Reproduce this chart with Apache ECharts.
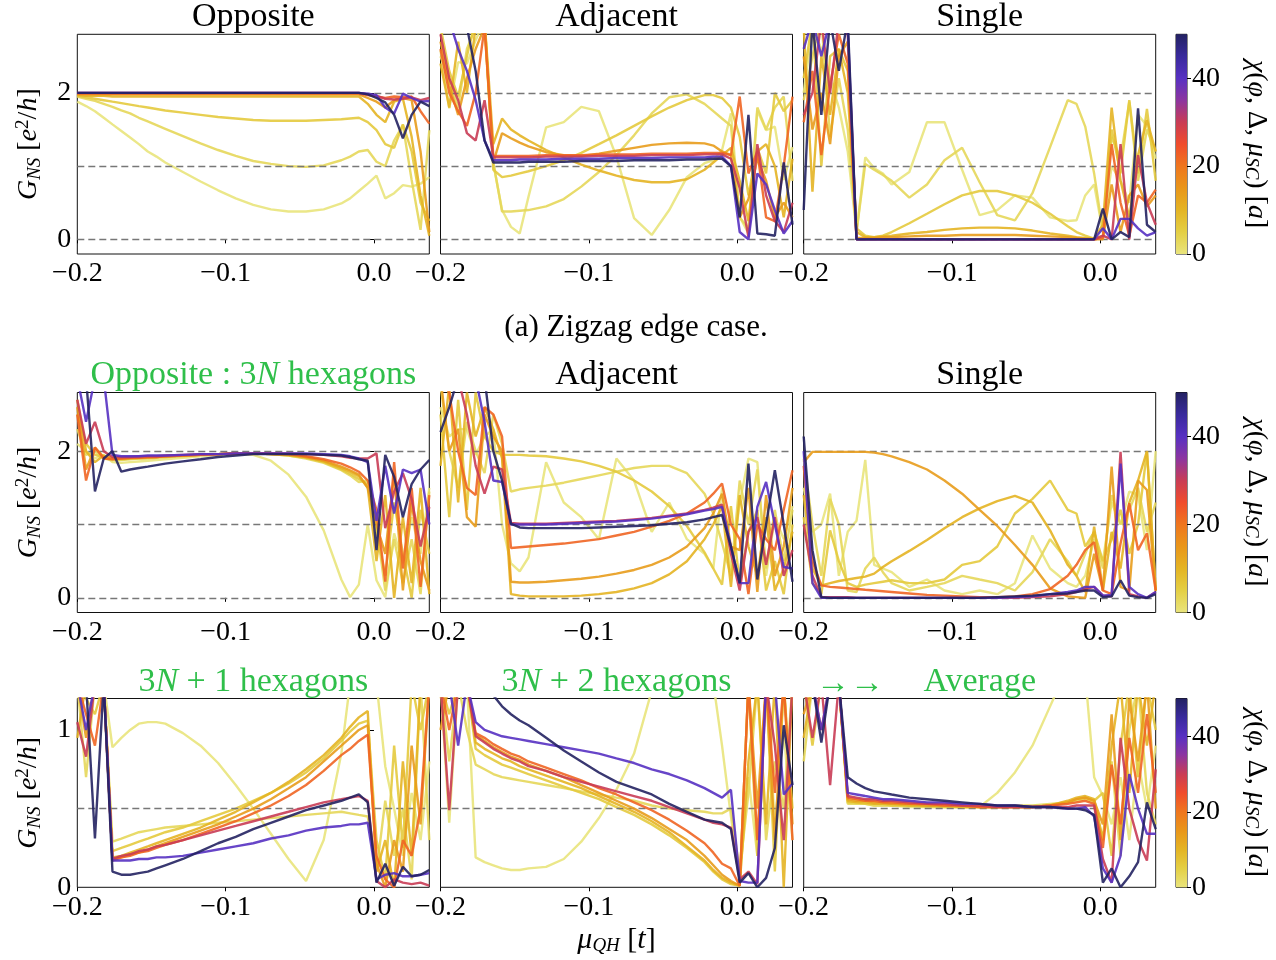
<!DOCTYPE html>
<html><head><meta charset="utf-8">
<script src="https://cdn.jsdelivr.net/npm/echarts@6/dist/echarts.min.js"></script>
<style>html,body{margin:0;padding:0;background:#fff}#c{width:1276px;height:960px}</style>
</head><body><div id="c"></div>
<script>
// ---------- data ----------
const X_GRID = [-0.2,-0.1941,-0.1881,-0.1822,-0.1763,-0.1703,-0.1644,-0.1585,-0.1525,-0.1466,-0.1407,
  -0.1288,-0.1169,-0.1051,-0.0932,-0.0814,-0.0695,-0.0576,-0.0458,-0.0339,-0.0220,
  -0.0161,-0.0102,-0.0042,0.0017,0.0076,0.0136,0.0195,0.0254,0.0314,0.0373];
const CHI = [0, 3, 6, 10, 14, 22, 30, 40, 50];
const X_TICKS = [-0.2, -0.1, 0];
const Y_TICKS_G2 = [0, 2];
const Y_TICKS_G1 = [0, 1];
const CB_TICKS = [0, 20, 40];
const REF_G2 = [0, 1, 2];
const REF_G1 = [0.5];

// (a) zigzag edge: Opposite
const ZZ_OPP = [
 [1.88,1.82,1.75,1.66,1.57,1.48,1.39,1.30,1.20,1.13,1.05, 0.92,0.79,0.67,0.56,0.47,0.41,0.38,0.38,0.41,0.49, 0.56,0.66,0.76,0.87,0.56,0.63,0.74,0.72,0.76,0.85],
 [1.95,1.92,1.89,1.85,1.81,1.76,1.72,1.66,1.61,1.56,1.51, 1.41,1.31,1.22,1.14,1.07,1.03,1.00,0.99,1.01,1.08, 1.13,1.20,1.22,1.06,1.00,1.35,1.56,0.81,0.13,1.49],
 [1.96,1.94,1.92,1.90,1.88,1.86,1.84,1.82,1.80,1.78,1.76, 1.73,1.70,1.67,1.65,1.63,1.62,1.62,1.62,1.63,1.64, 1.65,1.66,1.60,1.49,1.30,1.25,1.57,1.20,0.50,0.25],
 [1.97,1.96,1.96,1.96,1.95,1.95,1.95,1.95,1.95,1.95,1.95, 1.95,1.95,1.95,1.95,1.95,1.95,1.95,1.95,1.95,1.95, 1.95,1.95,1.85,1.70,1.60,1.88,1.92,1.40,0.60,0.05],
 [1.98,1.98,1.98,1.98,1.98,1.98,1.98,1.98,1.98,1.98,1.98, 1.98,1.98,1.98,1.98,1.98,1.98,1.98,1.98,1.98,1.98, 1.98,1.98,1.93,1.88,1.80,1.90,1.93,1.90,1.20,0.10],
 [1.99,1.99,1.99,1.99,1.99,1.99,1.99,1.99,1.99,1.99,1.99, 1.99,1.99,1.99,1.99,1.99,1.99,1.99,1.99,1.99,1.99, 1.99,1.99,1.97,1.95,1.93,1.95,1.94,1.95,1.75,1.58],
 [2.00,2.00,2.00,2.00,2.00,2.00,2.00,2.00,2.00,2.00,2.00, 2.00,2.00,2.00,2.00,2.00,2.00,2.00,2.00,2.00,2.00, 2.00,2.00,1.98,1.96,1.92,1.91,1.92,1.94,1.90,1.93],
 [2.00,2.00,2.00,2.00,2.00,2.00,2.00,2.00,2.00,2.00,2.00, 2.00,2.00,2.00,2.00,2.00,2.00,2.00,2.00,2.00,2.00, 2.00,2.00,1.99,1.97,1.80,1.72,1.99,1.93,1.88,1.89],
 [2.00,2.00,2.00,2.00,2.00,2.00,2.00,2.00,2.00,2.00,2.00, 2.00,2.00,2.00,2.00,2.00,2.00,2.00,2.00,2.00,2.00, 2.00,2.00,1.98,1.93,1.87,1.70,1.38,1.70,1.88,1.82]
];
// (a) zigzag edge: Adjacent
const ZZ_ADJ = [
 [2.58,1.79,2.42,2.40,2.72,3.00,1.04,0.40,0.17,0.08,0.58, 1.53,1.60,1.81,1.75,1.13,0.29,0.06,0.40,0.85,1.04, 1.08,1.22,1.72,0.31,0.08,1.76,1.49,1.54,0.81,1.26],
 [2.50,2.20,1.80,2.60,2.90,3.00,1.05,0.38,0.38,0.39,0.40, 0.45,0.55,0.72,0.92,1.15,1.42,1.72,1.94,1.98,1.85, 1.75,1.65,1.55,0.30,0.15,1.80,1.50,1.80,1.95,0.80],
 [2.90,2.30,1.95,2.50,3.00,3.00,0.95,0.85,0.87,0.90,0.93, 1.00,1.08,1.18,1.30,1.42,1.55,1.68,1.80,1.90,1.97, 1.97,1.93,1.80,1.40,0.60,1.25,0.90,2.00,1.75,1.90],
 [2.40,1.80,2.70,2.00,2.90,3.00,1.30,1.65,1.50,1.42,1.35, 1.22,1.12,1.02,0.94,0.87,0.81,0.78,0.78,0.82,0.95, 1.05,1.15,1.25,0.80,0.25,1.20,1.30,1.00,0.30,1.10],
 [2.70,2.10,1.70,2.20,2.60,2.90,1.05,1.45,1.38,1.32,1.27, 1.19,1.15,1.14,1.17,1.21,1.25,1.29,1.31,1.32,1.31, 1.28,1.20,1.15,0.30,0.55,1.10,0.80,0.30,0.50,0.30],
 [2.60,2.00,1.75,1.55,2.00,2.90,1.14,1.14,1.14,1.14,1.14, 1.15,1.15,1.15,1.16,1.16,1.16,1.17,1.17,1.17,1.18, 1.18,1.18,1.15,1.95,0.90,1.20,0.30,0.25,1.00,1.95],
 [2.80,2.20,1.90,1.45,1.35,1.90,1.12,1.12,1.12,1.12,1.12, 1.13,1.13,1.13,1.14,1.14,1.14,1.15,1.15,1.15,1.16, 1.16,1.16,1.10,0.70,0.03,1.30,0.60,0.25,0.10,0.50],
 [3.00,3.00,2.60,2.30,1.90,1.35,1.08,1.08,1.08,1.09,1.09, 1.09,1.10,1.10,1.10,1.11,1.11,1.11,1.12,1.12,1.12, 1.13,1.13,1.00,0.10,0.00,0.90,0.75,0.40,0.08,0.25],
 [3.00,3.00,3.00,2.90,2.30,1.35,1.05,1.05,1.05,1.05,1.06, 1.06,1.06,1.07,1.07,1.07,1.08,1.08,1.08,1.09,1.09, 1.10,1.10,1.00,0.30,1.70,0.08,0.07,0.05,1.05,0.20]
];
// (a) zigzag edge: Single
const ZZ_SGL = [
 [2.00,2.90,2.60,2.20,1.80,1.20,0.10,1.12,0.97,0.90,0.75, 0.92,1.60,1.60,0.95,0.33,0.40,0.60,0.57,0.30,0.25, 0.26,0.60,0.75,0.10,1.00,0.80,0.50,1.70,1.55,1.10],
 [1.90,2.50,3.00,1.40,2.20,1.50,0.10,1.03,0.95,0.88,0.80, 0.57,0.75,1.08,1.25,0.78,0.33,0.26,0.63,1.26,1.90, 1.85,1.54,0.90,0.10,1.40,1.10,1.88,0.80,1.50,1.20],
 [2.20,3.00,1.00,2.50,2.60,2.30,0.15,0.05,0.03,0.05,0.10, 0.22,0.35,0.48,0.60,0.66,0.66,0.60,0.50,0.35,0.18, 0.10,0.05,0.01,0.05,1.50,0.90,1.90,0.90,1.78,0.80],
 [2.90,0.65,2.50,1.70,2.60,2.00,0.10,0.03,0.03,0.04,0.05, 0.08,0.10,0.13,0.15,0.16,0.16,0.15,0.12,0.08,0.05, 0.03,0.02,0.01,0.20,1.80,0.80,0.30,1.15,1.63,1.20],
 [2.50,1.50,2.00,1.30,2.50,2.70,0.02,0.02,0.02,0.03,0.03, 0.04,0.05,0.05,0.06,0.06,0.06,0.06,0.05,0.04,0.03, 0.02,0.01,0.00,0.00,0.75,0.10,0.60,0.75,0.45,0.60],
 [1.60,2.30,1.15,2.10,2.80,2.40,0.00,0.00,0.00,0.00,0.00, 0.00,0.00,0.00,0.00,0.00,0.00,0.00,0.00,0.00,0.00, 0.00,0.00,0.00,0.02,1.30,0.50,0.05,0.60,0.50,0.68],
 [1.70,2.00,3.00,2.00,3.00,2.80,0.00,0.00,0.00,0.00,0.00, 0.00,0.00,0.00,0.00,0.00,0.00,0.00,0.00,0.00,0.00, 0.00,0.00,0.00,0.05,0.00,1.30,0.00,1.15,0.50,0.20],
 [2.60,3.00,2.50,3.00,2.90,2.90,0.00,0.00,0.00,0.00,0.00, 0.00,0.00,0.00,0.00,0.00,0.00,0.00,0.00,0.00,0.00, 0.00,0.00,0.00,0.15,0.00,0.28,0.28,0.15,0.05,0.10],
 [0.40,3.00,1.70,3.00,2.30,3.00,0.00,0.00,0.00,0.00,0.00, 0.00,0.00,0.00,0.00,0.00,0.00,0.00,0.00,0.00,0.00, 0.00,0.00,0.00,0.42,0.00,0.10,0.03,1.79,0.20,0.10]
];
// armchair: Opposite (3N hexagons)
const AC_OPP = [
 [2.10,2.00,1.90,1.95,1.85,1.84,1.85,1.86,1.87,1.88,1.89, 1.91,1.93,1.95,1.96,1.95,1.87,1.68,1.38,0.92,0.25, 0.01,0.18,1.00,0.24,0.01,0.88,0.47,1.10,0.60,1.50],
 [2.30,1.95,2.00,1.90,1.88,1.88,1.89,1.90,1.90,1.91,1.92, 1.93,1.95,1.96,1.97,1.97,1.96,1.94,1.90,1.84,1.74, 1.67,1.58,1.60,1.00,0.10,0.80,0.20,0.80,0.05,1.45],
 [2.50,2.10,1.95,1.92,1.89,1.89,1.90,1.90,1.91,1.92,1.92, 1.94,1.95,1.96,1.97,1.97,1.96,1.94,1.91,1.85,1.75, 1.69,1.62,1.55,0.90,0.30,1.30,0.60,0.00,1.20,0.60],
 [2.70,2.00,1.85,1.94,1.90,1.90,1.90,1.91,1.91,1.92,1.93, 1.94,1.95,1.96,1.97,1.97,1.96,1.95,1.92,1.86,1.77, 1.72,1.66,1.50,0.50,1.40,0.00,1.10,0.20,1.50,0.05],
 [2.60,1.75,2.05,1.92,1.90,1.90,1.91,1.91,1.92,1.92,1.93, 1.94,1.95,1.96,1.97,1.97,1.96,1.95,1.92,1.87,1.79, 1.74,1.68,1.50,1.00,0.60,1.70,0.10,1.30,0.50,0.10],
 [2.50,1.60,2.05,1.90,1.89,1.90,1.91,1.91,1.92,1.92,1.93, 1.94,1.95,1.96,1.97,1.97,1.97,1.96,1.93,1.89,1.83, 1.78,1.72,1.60,1.20,0.22,1.85,0.40,1.50,0.15,1.40],
 [2.70,2.10,2.40,2.00,1.92,1.92,1.92,1.93,1.93,1.93,1.94, 1.95,1.96,1.96,1.97,1.97,1.97,1.97,1.96,1.95,1.93, 1.91,1.90,1.90,1.97,0.95,1.45,1.70,1.35,0.70,1.24],
 [3.00,2.40,3.00,3.00,1.95,1.93,1.93,1.93,1.94,1.94,1.94, 1.95,1.96,1.96,1.97,1.97,1.97,1.97,1.97,1.96,1.95, 1.93,1.90,1.85,1.05,1.80,1.15,1.75,1.70,1.75,1.00],
 [3.00,3.00,1.45,1.90,2.00,1.72,1.75,1.77,1.79,1.81,1.83, 1.86,1.89,1.92,1.94,1.96,1.96,1.96,1.96,1.95,1.94, 1.92,1.89,1.87,0.65,1.95,1.65,1.10,1.55,1.75,1.88]
];
// armchair: Adjacent
const AC_ADJ = [
 [2.60,2.20,2.30,2.30,1.95,2.20,2.30,1.00,0.47,0.36,0.55, 1.85,1.30,1.10,0.80,1.90,1.60,0.90,1.30,0.80,0.60, 0.40,1.50,0.35,1.30,1.90,1.85,0.30,1.10,0.80,1.25],
 [2.90,2.00,1.50,2.40,2.00,1.70,2.50,2.10,1.45,1.48,1.50, 1.53,1.57,1.62,1.67,1.72,1.77,1.80,1.80,1.70,1.42, 1.15,0.75,0.30,1.60,1.00,1.75,0.40,1.20,0.50,1.20],
 [2.50,1.10,2.70,1.20,2.80,2.20,2.00,1.95,1.95,1.95,1.94, 1.93,1.90,1.86,1.80,1.72,1.60,1.45,1.25,0.98,0.62, 0.40,0.18,1.25,0.20,0.90,1.20,0.10,0.50,0.05,1.00],
 [1.80,2.90,1.30,2.80,2.20,2.60,2.30,1.90,0.05,0.03,0.02, 0.02,0.02,0.03,0.05,0.08,0.13,0.20,0.32,0.50,0.80, 1.00,1.25,0.15,1.40,0.70,0.30,1.10,0.10,0.40,0.90],
 [3.00,2.00,2.30,1.10,0.97,2.50,2.20,2.00,0.22,0.21,0.21, 0.22,0.24,0.26,0.29,0.33,0.38,0.45,0.55,0.70,0.95, 1.15,1.42,0.70,0.65,1.50,0.08,1.40,0.30,0.70,1.50],
 [3.00,2.80,2.00,1.50,1.40,2.60,2.50,2.20,0.68,0.69,0.70, 0.72,0.74,0.77,0.80,0.85,0.90,0.97,1.05,1.15,1.30, 1.42,1.56,1.00,0.80,0.05,1.00,0.80,0.65,1.20,1.74],
 [3.00,3.00,3.00,2.50,1.80,1.42,1.79,1.75,1.02,1.01,1.01, 1.01,1.02,1.03,1.04,1.05,1.07,1.09,1.12,1.15,1.20, 1.23,1.27,0.60,0.10,0.90,1.10,0.45,1.10,0.30,0.65],
 [3.00,3.00,3.00,3.00,3.00,2.40,1.60,1.58,1.00,1.00,1.00, 1.00,1.01,1.02,1.03,1.04,1.06,1.08,1.11,1.14,1.19, 1.21,1.24,0.70,0.20,0.20,1.24,1.58,1.00,0.42,0.40],
 [2.26,2.60,3.00,3.00,3.00,3.00,2.00,1.60,1.01,0.96,0.95, 0.95,0.95,0.95,0.96,0.97,0.98,0.99,1.01,1.03,1.07, 1.10,1.13,0.70,0.20,1.83,0.25,1.00,1.74,1.00,0.22]
];
// armchair: Single
const AC_SGL = [
 [1.50,0.90,1.00,1.42,0.30,0.90,1.05,1.88,0.45,0.40,0.35, 0.15,0.25,0.10,0.05,0.10,0.05,0.20,0.85,0.40,0.20, 0.15,0.30,0.80,0.50,1.30,1.00,1.45,1.40,0.65,2.00],
 [1.90,1.00,0.30,1.35,1.00,0.10,0.08,0.40,0.55,0.35,0.20, 0.10,0.15,0.20,0.30,0.25,0.20,0.10,0.35,0.80,0.50, 0.30,0.60,0.90,0.40,1.40,1.00,1.20,1.50,0.90,1.30],
 [1.10,0.20,0.05,0.92,0.50,0.20,0.15,0.18,0.20,0.22,0.24, 0.20,0.20,0.25,0.45,0.50,0.70,1.15,1.35,1.60,1.20, 1.15,0.70,0.90,0.50,0.80,1.20,0.60,1.00,2.00,0.10],
 [1.40,0.40,0.17,0.20,0.23,0.25,0.27,0.29,0.33,0.42,0.50, 0.64,0.79,0.95,1.10,1.22,1.32,1.39,1.30,0.92,0.45, 0.30,0.08,0.97,0.10,0.90,0.40,1.30,1.60,2.00,0.10],
 [1.85,1.99,1.99,1.99,1.99,1.99,1.99,1.99,1.98,1.96,1.93, 1.85,1.75,1.60,1.42,1.20,0.98,0.72,0.45,0.13,0.02, 0.01,0.00,0.60,0.10,1.79,0.15,0.10,1.60,1.47,0.10],
 [1.80,0.50,0.17,0.15,0.14,0.13,0.12,0.11,0.10,0.09,0.08, 0.06,0.04,0.03,0.02,0.01,0.01,0.02,0.05,0.12,0.30, 0.45,0.65,0.76,0.10,0.05,0.74,1.29,0.65,0.88,0.10],
 [1.00,0.30,0.01,0.01,0.01,0.01,0.00,0.00,0.00,0.00,0.00, 0.00,0.00,0.00,0.00,0.00,0.00,0.00,0.01,0.02,0.05, 0.08,0.12,0.15,0.03,0.02,1.99,0.05,0.02,0.00,0.08],
 [2.00,0.20,0.00,0.00,0.00,0.00,0.00,0.00,0.00,0.00,0.00, 0.00,0.00,0.00,0.00,0.00,0.00,0.01,0.02,0.05,0.08, 0.10,0.15,0.15,0.03,0.04,1.83,0.15,0.05,0.00,0.08],
 [2.20,0.65,0.01,0.00,0.00,0.00,0.00,0.00,0.00,0.00,0.00, 0.00,0.00,0.00,0.00,0.00,0.01,0.02,0.03,0.05,0.06, 0.08,0.10,0.10,0.01,0.02,0.24,0.03,0.01,0.00,0.05]
];
// armchair: 3N+1 hexagons
const AC_3N1 = [
 [1.30,1.30,1.30,1.30,0.89,0.95,1.00,1.04,1.05,1.05,1.04, 0.98,0.90,0.79,0.65,0.50,0.34,0.18,0.04,0.30,0.85, 1.30,1.50,1.50,1.30,0.77,0.50,0.20,0.60,0.30,0.80],
 [1.30,0.70,1.30,1.30,0.29,0.31,0.33,0.35,0.36,0.37,0.38, 0.39,0.40,0.41,0.42,0.43,0.44,0.45,0.46,0.47,0.48, 0.47,0.46,0.45,0.10,0.55,0.20,0.50,0.05,1.30,0.30],
 [1.30,1.20,1.10,1.30,0.23,0.25,0.27,0.29,0.31,0.33,0.35, 0.38,0.42,0.46,0.50,0.55,0.60,0.66,0.73,0.82,0.93, 0.99,1.04,1.06,0.30,0.05,0.90,0.25,1.30,1.00,1.30],
 [0.95,1.30,1.30,1.30,0.19,0.20,0.22,0.24,0.26,0.28,0.30, 0.34,0.38,0.43,0.48,0.54,0.60,0.67,0.75,0.84,0.95, 1.02,1.08,1.12,0.10,0.30,0.00,0.80,0.20,1.30,1.30],
 [1.30,0.95,1.30,1.30,0.18,0.19,0.21,0.22,0.24,0.26,0.28, 0.32,0.36,0.40,0.45,0.50,0.56,0.63,0.70,0.80,0.90, 0.95,1.00,1.03,0.15,0.00,0.30,0.10,0.90,0.40,1.30],
 [1.30,1.10,0.90,1.30,0.17,0.19,0.20,0.22,0.23,0.25,0.27, 0.30,0.34,0.38,0.42,0.47,0.52,0.58,0.65,0.74,0.84, 0.88,0.93,0.97,0.20,0.05,0.00,0.30,0.20,0.50,1.30],
 [1.05,0.83,1.30,1.30,0.18,0.20,0.21,0.23,0.24,0.26,0.27, 0.30,0.33,0.36,0.39,0.42,0.45,0.48,0.51,0.54,0.56, 0.57,0.58,0.55,0.04,0.00,0.05,0.03,0.02,0.03,0.01],
 [1.30,1.00,1.30,1.30,0.17,0.17,0.17,0.18,0.18,0.19,0.19, 0.20,0.22,0.24,0.26,0.28,0.31,0.33,0.36,0.38,0.39, 0.40,0.40,0.41,0.05,0.08,0.09,0.07,0.07,0.08,0.09],
 [1.30,1.30,0.31,1.30,0.10,0.08,0.08,0.09,0.10,0.12,0.14, 0.18,0.23,0.28,0.32,0.37,0.41,0.45,0.49,0.52,0.55, 0.57,0.59,0.54,0.03,0.15,0.01,0.13,0.07,0.08,0.11]
];
// armchair: 3N+2 hexagons
const AC_3N2 = [
 [1.30,0.41,1.30,1.30,0.19,0.16,0.14,0.12,0.11,0.11,0.12, 0.13,0.18,0.29,0.44,0.62,0.85,1.25,1.60,1.60,1.45, 1.30,0.90,0.45,0.05,0.70,0.20,1.30,0.40,1.00,0.30],
 [1.30,0.80,1.30,1.00,0.78,0.75,0.72,0.70,0.69,0.68,0.67, 0.65,0.63,0.61,0.59,0.57,0.55,0.52,0.50,0.49,0.48, 0.47,0.47,0.50,0.10,0.60,1.30,0.30,0.80,0.50,1.30],
 [1.30,1.10,1.30,1.30,0.88,0.84,0.81,0.78,0.76,0.74,0.72, 0.68,0.64,0.60,0.56,0.51,0.46,0.40,0.33,0.25,0.16, 0.10,0.05,0.02,0.01,1.30,0.20,1.30,0.10,1.30,0.50],
 [1.20,1.30,1.30,1.30,0.92,0.88,0.85,0.82,0.80,0.77,0.75, 0.71,0.67,0.63,0.58,0.53,0.48,0.42,0.35,0.26,0.17, 0.11,0.06,0.03,0.01,0.80,1.30,0.40,1.30,0.00,1.30],
 [1.00,1.30,1.30,1.30,0.97,0.93,0.89,0.86,0.83,0.81,0.78, 0.74,0.70,0.65,0.60,0.55,0.50,0.44,0.37,0.30,0.20, 0.14,0.08,0.04,0.01,1.30,0.50,1.30,0.30,1.30,0.40],
 [1.30,1.00,1.30,1.30,0.98,0.95,0.91,0.88,0.85,0.83,0.80, 0.76,0.72,0.68,0.63,0.59,0.54,0.49,0.43,0.36,0.28, 0.22,0.15,0.12,0.01,1.30,0.30,1.30,0.60,1.30,0.30],
 [1.30,0.49,1.30,1.30,0.96,0.92,0.88,0.85,0.82,0.80,0.77, 0.74,0.70,0.67,0.64,0.61,0.58,0.55,0.51,0.47,0.43, 0.41,0.40,0.38,0.05,0.10,0.02,1.30,0.90,0.30,1.30],
 [1.30,1.30,0.90,1.30,1.05,1.00,0.98,0.96,0.95,0.94,0.93, 0.91,0.89,0.87,0.85,0.82,0.79,0.75,0.72,0.68,0.63, 0.60,0.57,0.62,0.04,0.03,0.03,1.30,1.30,0.59,0.66],
 [1.30,1.30,1.30,1.30,1.40,1.30,1.22,1.15,1.10,1.06,1.03, 0.95,0.87,0.80,0.73,0.67,0.63,0.59,0.53,0.48,0.43, 0.42,0.41,0.37,0.03,0.09,0.00,0.06,0.25,1.03,0.65]
];
// armchair: Average
const AC_AVG = [
 [1.30,1.30,1.30,1.30,1.30,0.54,0.53,0.53,0.52,0.52,0.52, 0.51,0.51,0.51,0.51,0.51,0.60,0.73,0.90,1.15,1.40, 1.50,1.35,0.70,0.58,0.40,0.70,0.30,0.80,0.50,0.90],
 [0.80,1.30,1.30,1.30,1.30,0.53,0.53,0.53,0.52,0.52,0.52, 0.52,0.51,0.51,0.51,0.51,0.51,0.52,0.52,0.53,0.54, 0.55,0.56,0.54,0.30,0.80,0.20,1.00,1.30,0.60,0.40],
 [1.30,0.90,1.30,1.30,1.30,0.54,0.54,0.53,0.53,0.53,0.52, 0.52,0.52,0.51,0.51,0.51,0.51,0.51,0.51,0.52,0.54, 0.56,0.57,0.55,0.60,0.20,0.90,1.30,0.70,1.30,1.00],
 [0.95,1.30,1.30,1.30,1.30,0.55,0.54,0.54,0.53,0.53,0.53, 0.52,0.52,0.52,0.51,0.51,0.51,0.51,0.51,0.52,0.55, 0.57,0.58,0.56,0.30,0.90,1.30,0.60,1.30,0.90,1.30],
 [1.10,1.30,1.30,1.30,1.30,0.56,0.55,0.55,0.54,0.54,0.53, 0.53,0.52,0.52,0.52,0.51,0.51,0.51,0.51,0.52,0.54, 0.56,0.57,0.55,0.40,1.10,0.30,1.20,0.80,1.30,0.50],
 [1.30,1.30,1.00,1.30,1.30,0.57,0.56,0.55,0.55,0.54,0.54, 0.53,0.53,0.52,0.52,0.51,0.51,0.51,0.51,0.52,0.53, 0.54,0.55,0.53,0.25,0.78,0.40,0.95,0.60,1.10,0.60],
 [1.30,0.95,1.30,0.65,1.30,0.58,0.57,0.56,0.56,0.55,0.55, 0.54,0.53,0.53,0.52,0.52,0.51,0.51,0.51,0.51,0.51, 0.52,0.52,0.52,0.18,0.03,0.95,0.50,0.30,0.17,0.75],
 [1.30,1.30,1.00,1.30,1.30,0.60,0.59,0.58,0.57,0.56,0.56, 0.55,0.54,0.54,0.53,0.53,0.52,0.52,0.51,0.51,0.50, 0.50,0.51,0.45,0.12,0.03,0.20,0.72,0.50,0.34,0.34],
 [1.30,1.30,0.92,1.30,1.30,0.70,0.66,0.63,0.61,0.60,0.59, 0.57,0.56,0.55,0.54,0.53,0.52,0.52,0.51,0.51,0.50, 0.50,0.49,0.46,0.03,0.12,0.00,0.07,0.16,0.54,0.37]
];

// ---------- styling / layout ----------
const FONT = 'Liberation Serif';
const GREEN = '#2fbf4a';
const CMAP = ['#e9e47c','#e4cf44','#e4b424','#e9961a','#ef761e','#f04c2c','#c93c55','#8c35a0','#5731c2','#392a9c','#232262'];
function hex2rgb(h){return [parseInt(h.slice(1,3),16),parseInt(h.slice(3,5),16),parseInt(h.slice(5,7),16)];}
function cmap(t){
  const n=CMAP.length-1, f=Math.max(0,Math.min(1,t))*n, i=Math.min(Math.floor(f),n-1), u=f-i;
  const a=hex2rgb(CMAP[i]), b=hex2rgb(CMAP[i+1]);
  return 'rgb('+a.map((v,k)=>Math.round(v+(b[k]-v)*u)).join(',')+')';
}
const COL_LEFT = [77.3, 440.5, 803.7];
const PW = 352;
const ROWS = [{top:34.3,h:219.7,min:-0.2,max:2.8,ticks:Y_TICKS_G2,ref:REF_G2},
              {top:392.5,h:220,min:-0.2,max:2.8,ticks:Y_TICKS_G2,ref:REF_G2},
              {top:698.5,h:188.8,min:0,max:1.2,ticks:Y_TICKS_G1,ref:REF_G1}];
const PANELS = [ZZ_OPP,ZZ_ADJ,ZZ_SGL,AC_OPP,AC_ADJ,AC_SGL,AC_3N1,AC_3N2,AC_AVG];

const grid=[], xAxis=[], yAxis=[], series=[];
const fmtX = v => (v<0?'\u2212':'') + Math.abs(v).toFixed(1);
const yName = '{i|G}{s|NS} [{i|e}{p|2}/{i|h}]';
const richCommon = {
  i:{fontStyle:'italic',fontFamily:FONT,fontSize:28,color:'#000'},
  s:{fontStyle:'italic',fontFamily:FONT,fontSize:19,color:'#000',verticalAlign:'bottom',padding:[12,0,0,0]},
  p:{fontFamily:FONT,fontSize:19,color:'#000',verticalAlign:'top',padding:[0,0,10,0]}
};
PANELS.forEach((P,pi)=>{
  const r=Math.floor(pi/3), c=pi%3, R=ROWS[r];
  grid.push({left:COL_LEFT[c],top:R.top,width:PW,height:R.h,show:true,borderColor:'#111',borderWidth:1,backgroundColor:'transparent'});
  xAxis.push({type:'value',gridIndex:pi,min:-0.2,max:0.0373,
    axisLine:{show:false},splitLine:{show:false},
    axisTick:{show:true,customValues:X_TICKS,length:4,lineStyle:{color:'#000'}},
    axisLabel:{customValues:X_TICKS,formatter:fmtX,fontFamily:FONT,fontSize:28,color:'#000',margin:6}});
  yAxis.push({type:'value',gridIndex:pi,min:R.min,max:R.max,
    axisLine:{show:false},splitLine:{show:false},
    axisTick:{show:c===0,customValues:R.ticks,length:4,lineStyle:{color:'#000'}},
    axisLabel:{show:c===0,customValues:R.ticks,fontFamily:FONT,fontSize:28,color:'#000',margin:6},
    name:c===0?yName:'',nameLocation:'middle',nameGap:33,nameRotate:90,
    nameTextStyle:{fontFamily:FONT,fontSize:28,color:'#000',rich:richCommon}});
  P.forEach((ys,li)=>{
    const s={type:'line',xAxisIndex:pi,yAxisIndex:pi,showSymbol:false,symbol:'none',clip:true,silent:true,
      data:X_GRID.map((x,j)=>[x,ys[j]]),
      lineStyle:{width:2.4,color:cmap(CHI[li]/50),opacity:0.9},z:2+li};
    if(li===P.length-1){
      s.markLine={silent:true,symbol:['none','none'],label:{show:false},animation:false,
        lineStyle:{type:[7,4],color:'#777',width:1.3,opacity:1},
        data:R.ref.map(v=>({yAxis:v}))};
    }
    series.push(s);
  });
});
// colorbars
const cbStops = CMAP.slice().reverse().map((c,i)=>({offset:i/(CMAP.length-1),color:c}));
const cbName = '{i|χ}({i|φ}, Δ, {i|μ}{s|SC}) [{i|a}]';
ROWS.forEach((R,ri)=>{
  const gi = 9+ri;
  grid.push({left:1176,top:R.top,width:11,height:R.h,show:true,borderColor:'#111',borderWidth:1});
  xAxis.push({type:'category',gridIndex:gi,data:['cb'],show:false});
  yAxis.push({type:'value',gridIndex:gi,min:0,max:50,position:'right',
    axisLine:{show:false},splitLine:{show:false},
    axisTick:{show:true,customValues:CB_TICKS,length:4,lineStyle:{color:'#000'}},
    axisLabel:{customValues:CB_TICKS,fontFamily:FONT,fontSize:28,color:'#000',margin:5},
    name:cbName,nameLocation:'middle',nameGap:54,nameRotate:-90,
    nameTextStyle:{fontFamily:FONT,fontSize:28,color:'#000',rich:richCommon}});
  series.push({type:'bar',xAxisIndex:gi,yAxisIndex:gi,data:[50],barWidth:'100%',silent:true,
    itemStyle:{color:new echarts.graphic.LinearGradient(0,0,0,1,cbStops)}});
});

function txt(x,y,text,color,size){
  return {type:'text',x:x,y:y,silent:true,style:{text:text,fill:color,fontFamily:FONT,fontSize:size,
    align:'center',verticalAlign:'middle',
    rich:{i:{fontStyle:'italic',fontFamily:FONT,fontSize:size,fill:color},
          s:{fontStyle:'italic',fontFamily:FONT,fontSize:19,fill:color,verticalAlign:'bottom',padding:[12,0,0,0]}}}};
}
const centers = COL_LEFT.map(l=>l+PW/2);
const graphic = [
  txt(centers[0],17,'Opposite','#000',34),
  txt(centers[1],17,'Adjacent','#000',34),
  txt(centers[2],17,'Single','#000',34),
  txt(636,328,'(a) Zigzag edge case.','#000',31),
  txt(centers[0],375,'Opposite : 3{i|N} hexagons',GREEN,34),
  txt(centers[1],375,'Adjacent','#000',34),
  txt(centers[2],375,'Single','#000',34),
  txt(centers[0],682,'3{i|N} + 1 hexagons',GREEN,34),
  txt(centers[1],682,'3{i|N} + 2 hexagons',GREEN,34),
  txt(850,684,'\u2192\u2192',GREEN,34),
  txt(centers[2],682,'Average',GREEN,34),
  txt(centers[1],940,'{i|μ}{s|QH} [{i|t}]','#000',30)
];

const chart = echarts.init(document.getElementById('c'),null,{renderer:'canvas'});
chart.setOption({animation:false,backgroundColor:'#fff',grid,xAxis,yAxis,series,graphic});
</script></body></html>
